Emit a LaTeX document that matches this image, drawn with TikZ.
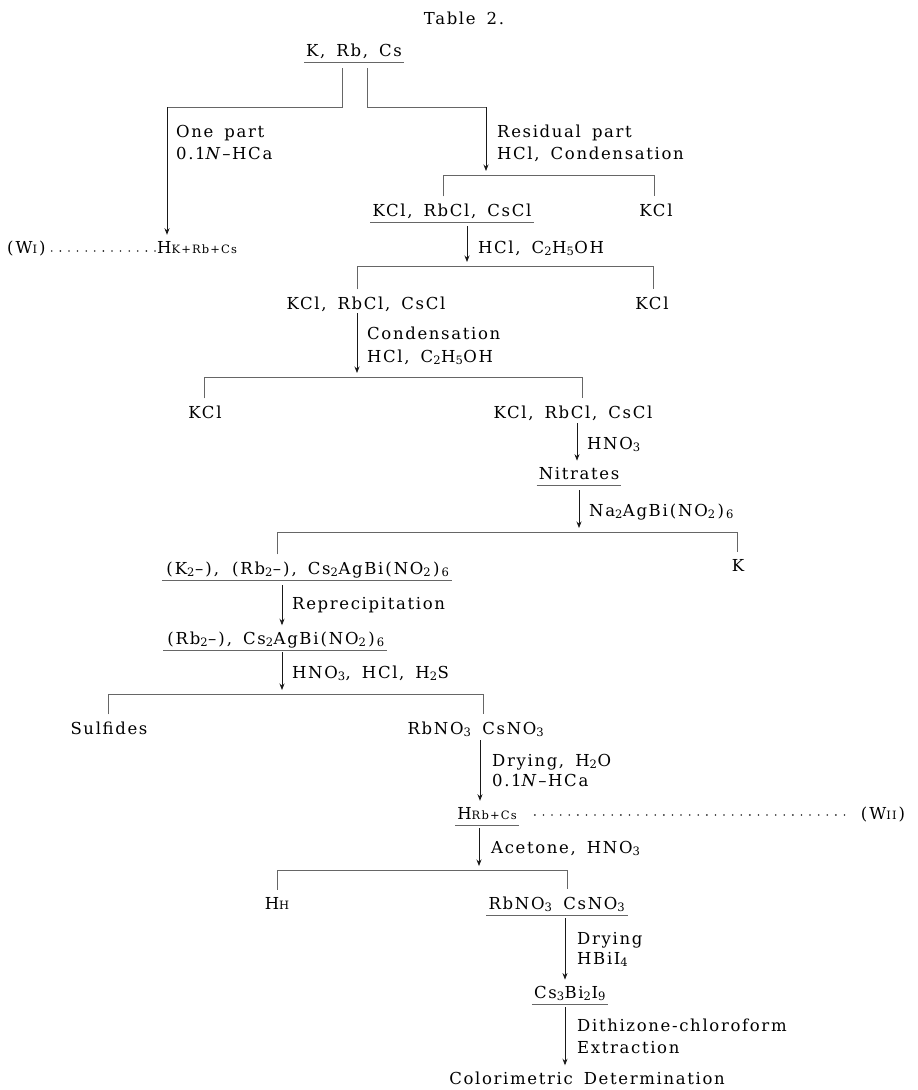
\documentclass[tikz,border=0pt]{standalone}
\usepackage{fontspec}
\setmainfont{DejaVu Serif}[LetterSpace=10, WordSpace=1.6]
\usetikzlibrary{arrows.meta}
\newcommand{\sbs}[1]{\textsubscript{#1}}
\newcommand{\low}[1]{{\fontsize{11.5}{12}\selectfont #1}}
\newcommand{\lp}{\kern2pt(\kern2pt}
\newcommand{\rp}{\kern2pt)\kern2pt}
\begin{document}
\begin{tikzpicture}[x=1pt, y=-1pt,
  every node/.style={inner sep=2pt, font=\fontsize{16.5}{21}\selectfont},
  chem/.style={anchor=base},
  note/.style={anchor=base west},
  rule/.style={draw=black!60, line width=0.8pt},
  flow/.style={draw=black!90, line width=0.8pt, shorten >=4pt, -{Stealth[length=6.5pt,width=5pt]}},
  leader/.style={draw=black!85, line width=1.8pt, line cap=round, dash pattern=on 0pt off 8.6pt}]
  \fill[white] (0,0) rectangle (918,1090);
  \useasboundingbox (0,0) rectangle (918,1090);

  % substances
  \node[chem] (title) at (464,24) {Table 2.};
  \node[chem] (top) at (354,56) {K, Rb, Cs};
  \node[note] (hk) at (155,253) {H\low{K+Rb+Cs}};
  \node[note] (w1) at (3,253) {\lp W\low{I}\rp};
  \node[chem] (mix1) at (452,216) {KCl, RbCl, CsCl};
  \node[chem] (kcl1) at (656,216) {KCl};
  \node[chem] (mix2) at (366,309) {KCl, RbCl, CsCl};
  \node[chem] (kcl2) at (652,309) {KCl};
  \node[chem] (kcl3) at (205,418) {KCl};
  \node[chem] (mix3) at (573,418) {KCl, RbCl, CsCl};
  \node[chem] (nitr) at (579,479) {Nitrates};
  \node[chem] (kres) at (738,571) {K};
  \node[chem] (ppt1) at (307,574) {\lp K\sbs{2}–\rp, \lp Rb\sbs{2}–\rp, Cs\sbs{2}AgBi\lp NO\sbs{2}\rp\sbs{6}};
  \node[chem] (ppt2) at (275,644) {\lp Rb\sbs{2}–\rp, Cs\sbs{2}AgBi\lp NO\sbs{2}\rp\sbs{6}};
  \node[chem] (sulf) at (109,734) {Sulfides};
  \node[chem] (nit1) at (476,734) {RbNO\sbs{3} CsNO\sbs{3}};
  \node[chem] (hrb) at (487,819) {H\low{Rb+Cs}};
  \node[chem] (w2) at (883,819) {\lp W\low{II}\rp};
  \node[chem] (hh) at (277,909) {H\low{H}};
  \node[chem] (nit2) at (557,909) {RbNO\sbs{3} CsNO\sbs{3}};
  \node[chem] (csbi) at (570,998) {Cs\sbs{3}Bi\sbs{2}I\sbs{9}};
  \node[chem] (colour) at (587,1084) {Colorimetric Determination};

  % reagents and operations
  \node[note] (la) at (174,137) {One part};
  \node[note] (lb) at (174,159) {0.1\textit{N}–HCa};
  \node[note] (lc) at (495,137) {Residual part};
  \node[note] (ld) at (495,159) {HCl, Condensation};
  \node[note] (le) at (476,253) {HCl, C\sbs{2}H\sbs{5}OH};
  \node[note] (lf) at (365,339) {Condensation};
  \node[note] (lg) at (365,362) {HCl, C\sbs{2}H\sbs{5}OH};
  \node[note] (lh) at (585,449) {HNO\sbs{3}};
  \node[note] (li) at (587,516) {Na\sbs{2}AgBi\lp NO\sbs{2}\rp\sbs{6}};
  \node[note] (lj) at (290,609) {Reprecipitation};
  \node[note] (lk) at (290,678) {HNO\sbs{3}, HCl, H\sbs{2}S};
  \node[note] (ll) at (490,766) {Drying, H\sbs{2}O};
  \node[note] (lm) at (490,786) {0.1\textit{N}–HCa};
  \node[note] (ln) at (489,853) {Acetone, HNO\sbs{3}};
  \node[note] (lo) at (575,944) {Drying};
  \node[note] (lp) at (575,964) {HBiI\sbs{4}};
  \node[note] (lq) at (575,1031) {Dithizone-chloroform};
  \node[note] (lr) at (575,1053) {Extraction};

  % underlines
  \foreach \n in {top,mix1,nitr,ppt1,ppt2,hrb,nit2,csbi}
    \draw[rule] ([yshift=-6pt]\n.base west) -- ([yshift=-6pt]\n.base east);

  % branch points
  \coordinate (b0l) at (167,107); \coordinate (b0r) at (486,107);
  \coordinate (b1l) at (443,175); \coordinate (b1r) at (654,175);
  \coordinate (b2l) at (357,266); \coordinate (b2r) at (653,266);
  \coordinate (b3l) at (204,377); \coordinate (b3r) at (582,377);
  \coordinate (b4l) at (277,532); \coordinate (b4r) at (737,532);
  \coordinate (b5l) at (108,694); \coordinate (b5r) at (483,694);
  \coordinate (b6l) at (277,870); \coordinate (b6r) at (567,870);

  % splitting bars
  \draw[rule] ([xshift=-12pt,yshift=-12pt]top.base) |- (b0l);
  \draw[rule] ([xshift=13pt,yshift=-12pt]top.base) |- (b0r);
  \draw[rule] ([yshift=5pt]mix1.north -| b1l) -- (b1l) -- (b1r) -- ([yshift=5pt]kcl1.north -| b1r);
  \draw[rule] ([yshift=5pt]mix2.north -| b2l) -- (b2l) -- (b2r) -- ([yshift=5pt]kcl2.north -| b2r);
  \draw[rule] ([yshift=5pt]kcl3.north -| b3l) -- (b3l) -- (b3r) -- ([yshift=5pt]mix3.north -| b3r);
  \draw[rule] ([yshift=5pt]ppt1.north -| b4l) -- (b4l) -- (b4r) -- ([yshift=5pt]kres.north -| b4r);
  \draw[rule] ([yshift=5pt]sulf.north -| b5l) -- (b5l) -- (b5r) -- ([yshift=5pt]nit1.north -| b5r);
  \draw[rule] ([yshift=5pt]hh.north -| b6l) -- (b6l) -- (b6r) -- ([yshift=5pt]nit2.north -| b6r);

  % arrow starts
  \coordinate (s1) at ([xshift=15pt,yshift=-10pt]mix1.base);
  \coordinate (s2) at ([xshift=-9pt,yshift=-4pt]mix2.base);
  \coordinate (s3) at ([xshift=4pt,yshift=-5pt]mix3.base);
  \coordinate (s4) at ([yshift=-11pt]nitr.base);
  \coordinate (s5) at ([xshift=-25pt,yshift=-11pt]ppt1.base);
  \coordinate (s6) at ([xshift=7pt,yshift=-8pt]ppt2.base);
  \coordinate (s7) at ([xshift=4pt,yshift=-6pt]nit1.base);
  \coordinate (s8) at ([xshift=-8pt,yshift=-9pt]hrb.base);
  \coordinate (s9) at ([xshift=8pt,yshift=-9pt]nit2.base);
  \coordinate (s10) at ([xshift=-5pt,yshift=-9pt]csbi.base);

  % arrows
  \draw[flow] (b0l) -- (hk.north -| b0l);
  \draw[flow] (b0r) -- (b0r |- b1l);
  \draw[flow] (s1) -- (s1 |- b2l);
  \draw[flow] (s2) -- (s2 |- b3l);
  \draw[flow] (s3) -- (s3 |- nitr.north);
  \draw[flow] (s4) -- (s4 |- b4l);
  \draw[flow] (s5) -- (s5 |- ppt2.north);
  \draw[flow] (s6) -- (s6 |- b5l);
  \draw[flow] (s7) -- (s7 |- hrb.north);
  \draw[flow] (s8) -- (s8 |- b6l);
  \draw[flow] (s9) -- (s9 |- csbi.north);
  \draw[flow] (s10) -- (s10 |- colour.north);

  % dotted leaders to the weighings
  \draw[leader] ([xshift=2pt,yshift=2pt]w1.base east) -- ([yshift=2pt]hk.base west);
  \draw[leader] ([xshift=16pt,yshift=4pt]hrb.base east) -- ([xshift=-8pt,yshift=4pt]w2.base west);
\end{tikzpicture}
\end{document}
